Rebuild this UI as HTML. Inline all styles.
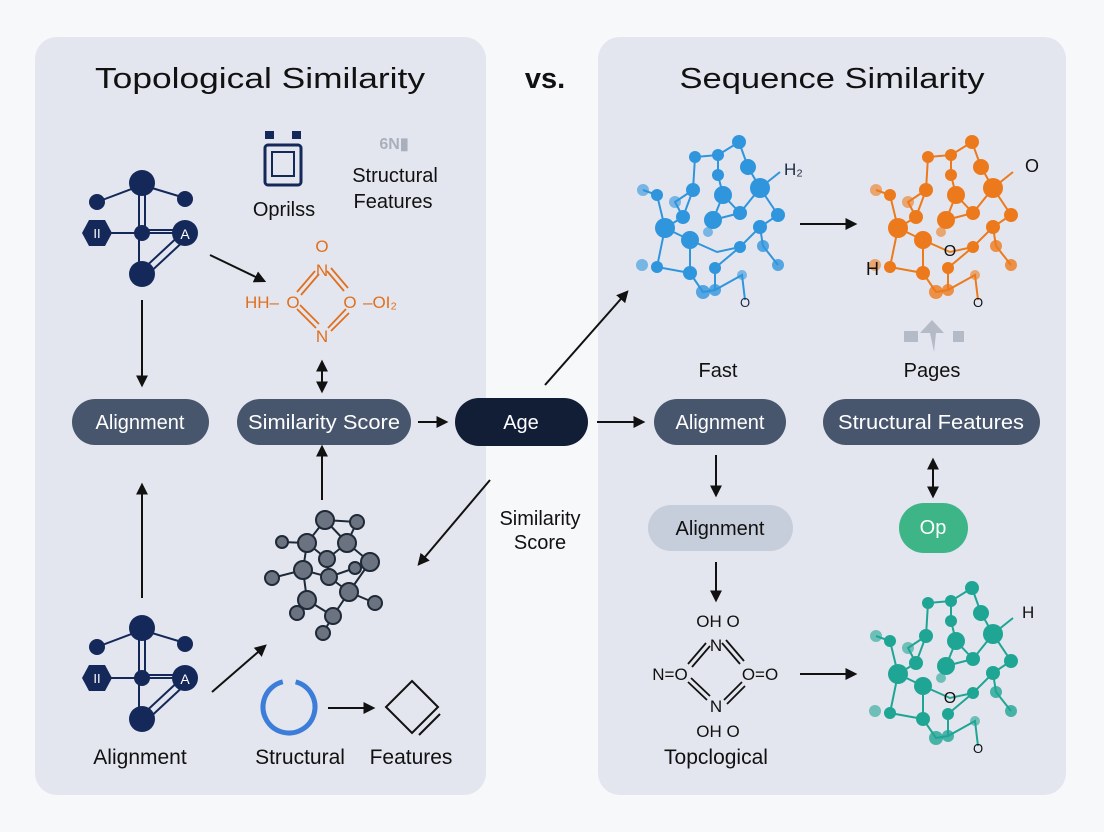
<!DOCTYPE html>
<html><head><meta charset="utf-8"><style>
html,body{margin:0;padding:0;background:#f7f8fa;}
svg{display:block;font-family:"Liberation Sans",sans-serif;}
</style></head><body>
<svg width="1104" height="832" viewBox="0 0 1104 832" xmlns="http://www.w3.org/2000/svg">
<defs>
<marker id="ah" viewBox="0 0 10 10" refX="8" refY="5" markerWidth="6" markerHeight="6" orient="auto-start-reverse"><path d="M0,0 L10,5 L0,10 z" fill="#111"/></marker>
<g id="navy">
 <line x1="142" y1="185" x2="97" y2="202" stroke="#14285a" stroke-width="2"/>
 <line x1="142" y1="185" x2="185" y2="198" stroke="#14285a" stroke-width="2"/>
 <line x1="139" y1="185" x2="139" y2="275" stroke="#14285a" stroke-width="2"/>
 <line x1="145" y1="185" x2="145" y2="233" stroke="#14285a" stroke-width="2"/>
 <line x1="97" y1="233" x2="185" y2="233" stroke="#14285a" stroke-width="2"/>
 <line x1="142" y1="230" x2="185" y2="230" stroke="#14285a" stroke-width="2"/>
 <line x1="140" y1="272" x2="183" y2="232" stroke="#14285a" stroke-width="2"/>
 <line x1="145" y1="277" x2="188" y2="237" stroke="#14285a" stroke-width="2"/>
 <circle cx="142" cy="183" r="13" fill="#14285a"/>
 <circle cx="97" cy="202" r="8" fill="#14285a"/>
 <circle cx="185" cy="199" r="8" fill="#14285a"/>
 <polygon points="82,233 89,220 105,220 112,233 105,246 89,246" fill="#14285a"/>
 <circle cx="142" cy="233" r="8" fill="#14285a"/>
 <circle cx="185" cy="233" r="13" fill="#14285a"/>
 <circle cx="142" cy="274" r="13" fill="#14285a"/>
</g>
<g id="mol" stroke-width="2">
 <g stroke="currentColor" fill="none">
 <path d="M739,142 L748,167 L760,188 L740,213 L723,195 L718,175 L718,155 L739,142 M718,155 L695,157 L693,190 L683,217 L665,228 L657,195 L643,190 M693,190 L675,202 L683,217 M665,228 L690,240 L717,252 L740,247 L760,227 L778,215 L760,188 M760,188 L780,172 M723,195 L713,220 L740,213 M760,227 L763,246 L778,265 M690,240 L690,273 L657,267 L665,228 M690,273 L703,292 L715,290 L742,275 L745,300 M715,268 L715,290 M740,247 L715,268"/>
 </g>
 <g fill="currentColor">
 <circle cx="739" cy="142" r="7"/><circle cx="695" cy="157" r="6"/><circle cx="718" cy="155" r="6"/>
 <circle cx="748" cy="167" r="8"/><circle cx="718" cy="175" r="6"/><circle cx="760" cy="188" r="10"/>
 <circle cx="643" cy="190" r="6" opacity=".6"/><circle cx="657" cy="195" r="6"/><circle cx="693" cy="190" r="7"/>
 <circle cx="723" cy="195" r="9"/><circle cx="675" cy="202" r="6" opacity=".6"/><circle cx="683" cy="217" r="7"/>
 <circle cx="740" cy="213" r="7"/><circle cx="778" cy="215" r="7"/><circle cx="713" cy="220" r="9"/>
 <circle cx="665" cy="228" r="10"/><circle cx="760" cy="227" r="7"/><circle cx="708" cy="232" r="5" opacity=".6"/>
 <circle cx="690" cy="240" r="9"/><circle cx="740" cy="247" r="6"/><circle cx="763" cy="246" r="6" opacity=".8"/>
 <circle cx="642" cy="265" r="6" opacity=".6"/><circle cx="657" cy="267" r="6"/><circle cx="690" cy="273" r="7"/>
 <circle cx="715" cy="268" r="6"/><circle cx="778" cy="265" r="6" opacity=".8"/><circle cx="703" cy="292" r="7" opacity=".8"/>
 <circle cx="715" cy="290" r="6" opacity=".8"/><circle cx="742" cy="275" r="5" opacity=".6"/>
 </g>
</g>
</defs>

<rect x="35" y="37" width="451" height="758" rx="22" fill="#e3e6ee"/>
<rect x="598" y="37" width="468" height="758" rx="22" fill="#e3e6ee"/>

<text x="260" y="88" font-size="29" text-anchor="middle" fill="#111" textLength="330" lengthAdjust="spacingAndGlyphs">Topological Similarity</text>
<text x="545" y="88" font-size="29" font-weight="bold" text-anchor="middle" fill="#111">vs.</text>
<text x="832" y="88" font-size="29" text-anchor="middle" fill="#111" textLength="305" lengthAdjust="spacingAndGlyphs">Sequence Similarity</text>

<!-- left top -->
<use href="#navy"/>
<text x="97" y="238" font-size="13" fill="#fff" text-anchor="middle">II</text>
<text x="185" y="239" font-size="14" fill="#fff" text-anchor="middle">A</text>
<use href="#navy" transform="translate(0,445)"/>
<text x="97" y="683" font-size="13" fill="#fff" text-anchor="middle">II</text>
<text x="185" y="684" font-size="14" fill="#fff" text-anchor="middle">A</text>

<rect x="265" y="131" width="9" height="8" fill="#14285a"/><rect x="292" y="131" width="9" height="8" fill="#14285a"/>
<rect x="265" y="145" width="36" height="40" rx="3" fill="none" stroke="#14285a" stroke-width="3"/>
<rect x="272" y="152" width="22" height="24" fill="none" stroke="#14285a" stroke-width="2"/>
<text x="284" y="216" font-size="20" text-anchor="middle" fill="#111">Oprilss</text>
<text x="394" y="149" font-size="16" text-anchor="middle" fill="#aab0bb" font-weight="bold">6N▮</text>
<text x="395" y="182" font-size="20" text-anchor="middle" fill="#111">Structural</text>
<text x="393" y="208" font-size="20" text-anchor="middle" fill="#111">Features</text>

<!-- orange ring -->
<g fill="#e0701f" font-size="17" text-anchor="middle">
<text x="322" y="252">O</text><text x="322" y="276">N</text>
<text x="262" y="308">HH–</text><text x="293" y="308">O</text><text x="350" y="308">O</text>
<text x="380" y="308">–OI₂</text><text x="322" y="342">N</text>
</g>
<g stroke="#e0701f" stroke-width="1.8">
<line x1="297" y1="292" x2="315" y2="271"/><line x1="301" y1="295" x2="319" y2="274"/>
<line x1="327" y1="271" x2="344" y2="291"/><line x1="331" y1="268" x2="348" y2="288"/>
<line x1="297" y1="309" x2="316" y2="328"/><line x1="300" y1="305" x2="319" y2="324"/>
<line x1="346" y1="309" x2="328" y2="328"/><line x1="349" y1="313" x2="331" y2="331"/>
</g>

<!-- gray molecule -->
<g stroke="#1f2937" stroke-width="2" fill="none">
<path d="M325,520 L357,522 L347,543 L370,562 L349,592 L333,616 L307,600 L303,570 L307,543 L325,520 M282,542 L307,543 L327,559 L347,543 M272,578 L303,570 L329,577 L349,592 L375,603 M327,559 L329,577 L355,568 M307,600 L297,613 M333,616 L323,633 M325,520 L347,543"/>
</g>
<g fill="#6b7280" stroke="#1f2937" stroke-width="2">
<circle cx="325" cy="520" r="9"/><circle cx="357" cy="522" r="7"/><circle cx="282" cy="542" r="6"/>
<circle cx="307" cy="543" r="9"/><circle cx="347" cy="543" r="9"/><circle cx="327" cy="559" r="8"/>
<circle cx="370" cy="562" r="9"/><circle cx="355" cy="568" r="6"/><circle cx="303" cy="570" r="9"/>
<circle cx="272" cy="578" r="7"/><circle cx="329" cy="577" r="8"/><circle cx="349" cy="592" r="9"/>
<circle cx="375" cy="603" r="7"/><circle cx="307" cy="600" r="9"/><circle cx="297" cy="613" r="7"/>
<circle cx="333" cy="616" r="8"/><circle cx="323" cy="633" r="7"/>
</g>

<circle cx="289" cy="707" r="26" fill="none" stroke="#3b7dd8" stroke-width="5" stroke-dasharray="150 13" transform="rotate(-75 289 707)"/>
<polygon points="412,681 438,707 412,733 386,707" fill="none" stroke="#111" stroke-width="2"/>
<line x1="419" y1="735" x2="440" y2="714" stroke="#111" stroke-width="2"/>
<text x="140" y="764" font-size="21" text-anchor="middle" fill="#111">Alignment</text>
<text x="300" y="764" font-size="21" text-anchor="middle" fill="#111">Structural</text>
<text x="411" y="764" font-size="21" text-anchor="middle" fill="#111">Features</text>

<!-- pills -->
<rect x="72" y="399" width="137" height="46" rx="23" fill="#48566d"/>
<text x="140" y="429" font-size="20" text-anchor="middle" fill="#fff">Alignment</text>
<rect x="237" y="399" width="174" height="46" rx="23" fill="#48566d"/>
<text x="324" y="429" font-size="20" text-anchor="middle" fill="#fff" textLength="152" lengthAdjust="spacingAndGlyphs">Similarity Score</text>
<rect x="455" y="398" width="133" height="48" rx="24" fill="#121d36"/>
<text x="521" y="429" font-size="20" text-anchor="middle" fill="#fff">Age</text>
<rect x="654" y="399" width="132" height="46" rx="23" fill="#48566d"/>
<text x="720" y="429" font-size="20" text-anchor="middle" fill="#fff">Alignment</text>
<rect x="823" y="399" width="217" height="46" rx="23" fill="#48566d"/>
<text x="931" y="429" font-size="20" text-anchor="middle" fill="#fff" textLength="186" lengthAdjust="spacingAndGlyphs">Structural Features</text>
<rect x="648" y="505" width="145" height="46" rx="23" fill="#c6cddb"/>
<text x="720" y="535" font-size="20" text-anchor="middle" fill="#111">Alignment</text>
<rect x="899" y="503" width="69" height="50" rx="25" fill="#3eb587"/>
<text x="933" y="534" font-size="20" text-anchor="middle" fill="#fff">Op</text>

<text x="718" y="377" font-size="20" text-anchor="middle" fill="#111">Fast</text>
<text x="932" y="377" font-size="20" text-anchor="middle" fill="#111">Pages</text>
<rect x="904" y="331" width="14" height="11" fill="#b4bbc7"/><rect x="953" y="331" width="11" height="11" fill="#b4bbc7"/>
<polygon points="932,320 944,333 936,333 934,352 930,333 920,333" fill="#b4bbc7"/>
<text x="540" y="525" font-size="20" text-anchor="middle" fill="#111">Similarity</text>
<text x="540" y="549" font-size="20" text-anchor="middle" fill="#111">Score</text>

<!-- arrows -->
<g stroke="#111" stroke-width="2" fill="none" marker-end="url(#ah)">
<line x1="210" y1="255" x2="264" y2="281"/>
<line x1="142" y1="300" x2="142" y2="385"/>
<line x1="322" y1="362" x2="322" y2="391" marker-start="url(#ah)"/>
<line x1="418" y1="422" x2="446" y2="422"/>
<line x1="322" y1="500" x2="322" y2="447"/>
<line x1="142" y1="598" x2="142" y2="485"/>
<line x1="212" y1="692" x2="265" y2="646"/>
<line x1="545" y1="385" x2="627" y2="292"/>
<line x1="490" y1="480" x2="419" y2="564"/>
<line x1="597" y1="422" x2="643" y2="422"/>
<line x1="716" y1="455" x2="716" y2="495"/>
<line x1="716" y1="562" x2="716" y2="600"/>
<line x1="933" y1="460" x2="933" y2="496" marker-start="url(#ah)"/>
<line x1="800" y1="224" x2="855" y2="224"/>
<line x1="800" y1="674" x2="855" y2="674"/>
<line x1="328" y1="708" x2="373" y2="708"/>
</g>

<!-- molecules right -->
<g color="#2f95dd"><use href="#mol"/></g>
<text x="784" y="175" font-size="17" fill="#1c2a44">H₂</text>
<text x="745" y="307" font-size="13" fill="#1c2a44" text-anchor="middle">O</text>
<g color="#ec7a1c"><use href="#mol" transform="translate(233,0)"/></g>
<text x="1025" y="172" font-size="18" fill="#111">O</text>
<text x="866" y="275" font-size="18" fill="#111">H</text>
<text x="950" y="256" font-size="16" fill="#111" text-anchor="middle">O</text>
<text x="978" y="307" font-size="13" fill="#111" text-anchor="middle">O</text>
<g color="#1fa594"><use href="#mol" transform="translate(233,446)"/></g>
<text x="1022" y="618" font-size="17" fill="#111">H</text>
<text x="950" y="703" font-size="16" fill="#111" text-anchor="middle">O</text>
<text x="978" y="753" font-size="13" fill="#111" text-anchor="middle">O</text>

<!-- bottom ring -->
<g fill="#111" font-size="17" text-anchor="middle">
<text x="718" y="627">OH O</text>
<text x="716" y="651">N</text>
<text x="670" y="680">N=O</text>
<text x="760" y="680">O=O</text>
<text x="716" y="712">N</text>
<text x="718" y="737">OH O</text>
</g>
<g stroke="#111" stroke-width="1.8">
<line x1="688" y1="664" x2="706" y2="643"/><line x1="692" y1="667" x2="710" y2="646"/>
<line x1="722" y1="643" x2="740" y2="664"/><line x1="726" y1="640" x2="744" y2="661"/>
<line x1="688" y1="682" x2="707" y2="700"/><line x1="691" y1="678" x2="710" y2="696"/>
<line x1="742" y1="682" x2="724" y2="700"/><line x1="745" y1="686" x2="727" y2="704"/>
</g>
<text x="716" y="764" font-size="21" text-anchor="middle" fill="#111">Topclogical</text>
</svg>
</body></html>
